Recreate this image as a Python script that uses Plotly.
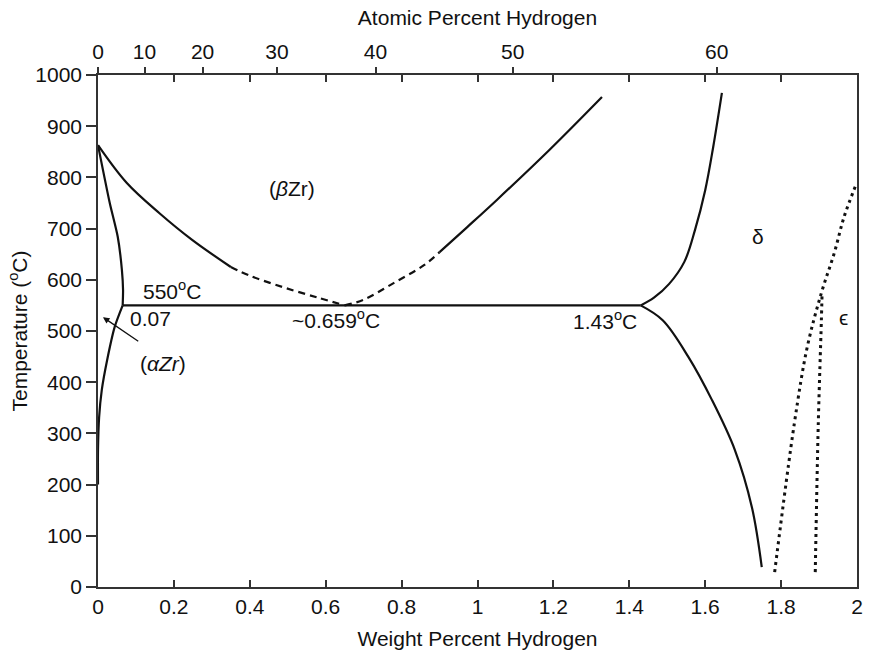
import plotly.graph_objects as go

# ---------------- data (weight % H, temperature degC) ----------------
beta_left_solid_wt = [0.0, 0.076, 0.162, 0.248, 0.35]
beta_left_solid_T = [863, 789, 730, 678, 625]
beta_left_dash_wt = [0.35, 0.40, 0.49, 0.58, 0.65]
beta_left_dash_T = [625, 608, 585, 565, 550]
beta_right_dash_wt = [0.65, 0.70, 0.78, 0.86, 0.90]
beta_right_dash_T = [550, 561, 594, 629, 654]
beta_right_solid_wt = [0.90, 0.973, 1.051, 1.19, 1.328]
beta_right_solid_T = [654, 703, 756, 854, 957]

alpha_beta_wt = [0.0, 0.031, 0.052, 0.063, 0.066, 0.065]
alpha_beta_T = [863, 750, 684, 619, 580, 550]
alpha_solvus_wt = [0.065, 0.044, 0.024, 0.010, 0.003, 0.0, 0.0]
alpha_solvus_T = [550, 508, 443, 385, 332, 268, 200]

eutectoid_wt = [0.065, 1.43]
eutectoid_T = [550, 550]

delta_upper_wt = [1.43, 1.465, 1.505, 1.545, 1.573, 1.60, 1.621, 1.644]
delta_upper_T = [550, 565, 592, 635, 697, 775, 859, 965]
delta_lower_wt = [1.43, 1.488, 1.556, 1.618, 1.678, 1.723, 1.749]
delta_lower_T = [550, 521, 449, 365, 268, 156, 39]

eps_left_wt = [1.783, 1.835, 1.869, 1.906, 1.94, 1.966, 1.997]
eps_left_T = [29, 320, 469, 574, 652, 723, 785]
eps_right_wt = [1.89, 1.898, 1.906, 1.908]
eps_right_T = [29, 320, 518, 574]

wt_ticks = [0, 0.2, 0.4, 0.6, 0.8, 1.0, 1.2, 1.4, 1.6, 1.8, 2.0]
wt_labels = ["0", "0.2", "0.4", "0.6", "0.8", "1", "1.2", "1.4", "1.6", "1.8", "2"]
T_ticks = [0, 100, 200, 300, 400, 500, 600, 700, 800, 900, 1000]
at_ticks = [0, 10, 20, 30, 40, 50, 60]

M_H = 1.008
M_ZR = 91.224


def at_to_wt(a):
    return 100.0 * a * M_H / (a * M_H + (100.0 - a) * M_ZR)


at_pos = [at_to_wt(a) for a in at_ticks]

FONT = "Liberation Sans, Arial, sans-serif"
BLACK = "#111111"
FS = 21

fig = go.Figure()


def add_line(x, y, dash="solid", width=2.2, smooth=1.0):
    fig.add_trace(go.Scatter(x=x, y=y, mode="lines", showlegend=False,
                             hoverinfo="skip",
                             line=dict(color=BLACK, width=width, dash=dash,
                                       shape="spline", smoothing=smooth)))


add_line(beta_left_solid_wt, beta_left_solid_T)
add_line(beta_left_dash_wt, beta_left_dash_T, dash="7px,5px")
add_line(beta_right_dash_wt, beta_right_dash_T, dash="7px,5px")
add_line(beta_right_solid_wt, beta_right_solid_T)
add_line(alpha_beta_wt, alpha_beta_T, smooth=0.7)
add_line(alpha_solvus_wt, alpha_solvus_T, smooth=0.7)
add_line(eutectoid_wt, eutectoid_T)
add_line(delta_upper_wt, delta_upper_T)
add_line(delta_lower_wt, delta_lower_T)
add_line(eps_left_wt, eps_left_T, dash="3px,4px", width=3)
add_line(eps_right_wt, eps_right_T, dash="3px,4px", width=3)

# invisible trace on the top axis so it is drawn
fig.add_trace(go.Scatter(x=[0, 2], y=[0, 0], xaxis="x2", mode="lines",
                         line=dict(width=0), showlegend=False, hoverinfo="skip",
                         opacity=0))

tf = dict(family=FONT, size=FS, color=BLACK)


def label(x, y, text, xanchor="center"):
    fig.add_annotation(x=x, y=y, text=text, showarrow=False, xanchor=xanchor,
                       yanchor="middle", font=tf)


label(0.512, 779, "(<i>β</i>Zr)")
label(1.74, 684, "δ")
label(1.965, 526, "ϵ")
label(0.194, 580, "550<sup>o</sup>C")
label(0.078, 525, "0.07", xanchor="left")
label(0.17, 437, "(<i>αZr</i>)")
label(0.627, 524, "~0.659<sup>o</sup>C")
label(1.425, 521, "1.43<sup>o</sup>C", xanchor="right")

fig.add_annotation(x=-0.034, y=863, text="863<sup>o</sup>C", showarrow=False,
                   xanchor="right", yanchor="middle", font=tf)
fig.add_annotation(x=0.0, y=-95, text="Zr", showarrow=False, xanchor="left",
                   xshift=-10, yanchor="middle", font=tf)

fig.add_annotation(x=0.013, y=527, ax=0.11, ay=478, axref="x", ayref="y",
                   text="", showarrow=True, arrowhead=2, arrowsize=1,
                   arrowwidth=1.3, arrowcolor=BLACK)

fig.update_layout(
    width=873, height=657,
    margin=dict(l=98, r=10, t=75, b=70),
    paper_bgcolor="white", plot_bgcolor="white",
    font=dict(family=FONT, size=FS, color=BLACK),
    xaxis=dict(range=[0, 2], tickvals=wt_ticks, ticktext=wt_labels,
               ticks="inside", ticklen=7, tickwidth=1.5, tickcolor="#333",
               showline=True, linecolor="#333", linewidth=1.5, mirror="ticks",
               showgrid=False, zeroline=False, tickfont=tf,
               title=dict(text="Weight Percent Hydrogen", font=tf, standoff=14)),
    xaxis2=dict(range=[0, 2], overlaying="x", side="top", tickvals=at_pos,
                ticktext=[str(a) for a in at_ticks], ticks="outside", ticklen=7,
                tickwidth=1.5, tickcolor="#333", showline=False, showgrid=False,
                zeroline=False, tickfont=tf,
                title=dict(text="Atomic Percent Hydrogen", font=tf, standoff=8)),
    yaxis=dict(range=[0, 1000], tickvals=T_ticks, ticks="outside", ticklen=10,
               tickwidth=1.5, tickcolor="#333", showline=True, linecolor="#333",
               linewidth=1.5, mirror=True, showgrid=False, zeroline=False,
               tickfont=tf,
               title=dict(text="Temperature (<sup>o</sup>C)", font=tf, standoff=2)),
)

fig.write_html("out.html")
